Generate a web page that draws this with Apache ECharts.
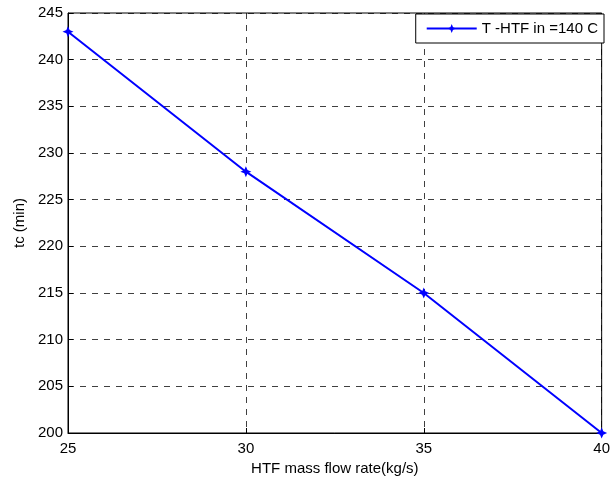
<!DOCTYPE html>
<html>
<head>
<meta charset="utf-8">
<script src="https://cdn.jsdelivr.net/npm/echarts@6/dist/echarts.min.js"></script>
<style>
  html, body { margin: 0; padding: 0; background: #fff; }
  #chart { width: 613px; height: 481px; }
</style>
</head>
<body>
<div id="chart"></div>
<script>
// Charging time against heat-transfer-fluid mass flow rate
const flowRates = [25, 30, 35, 40];
const chargeTimes = [243, 228, 215, 200];
const seriesName = 'T -HTF in =140 C';

const FONT = 'Liberation Sans, Arial, sans-serif';
const FS = 15;
const STAR = 'path://M0,-10 L3,-3 L10,0 L3,3 L0,10 L-3,3 L-10,0 L-3,-3 Z';

const chart = echarts.init(document.getElementById('chart'));
const gridLine = { show: true, lineStyle: { color: '#000', type: [6, 6], width: 1, opacity: 0.75 } };

chart.setOption({
  animation: false,
  grid: { left: 68, right: 7, top: 13, bottom: 45, containLabel: false, show: true, borderColor: '#000', borderWidth: 1 },
  legend: {
    right: 9, top: 14,
    data: [{ name: seriesName }],
    backgroundColor: '#fff', borderColor: '#000', borderWidth: 1,
    padding: [7, 6, 7, 10], itemWidth: 50, itemHeight: 11, itemGap: 6,
    textStyle: { fontFamily: FONT, fontSize: FS, color: '#000' }
  },
  xAxis: {
    type: 'value', min: 25, max: 40, interval: 5,
    name: 'HTF mass flow rate(kg/s)', nameLocation: 'middle', nameGap: 28,
    nameTextStyle: { fontFamily: FONT, fontSize: FS, color: '#000' },
    axisLine: { lineStyle: { color: '#000' } },
    axisTick: { inside: true, length: 5, lineStyle: { color: '#000' } },
    axisLabel: { fontFamily: FONT, fontSize: FS, color: '#000', margin: 8 },
    splitLine: gridLine
  },
  yAxis: {
    type: 'value', min: 200, max: 245, interval: 5,
    name: 'tc (min)', nameLocation: 'middle', nameGap: 40, nameRotate: 90,
    nameTextStyle: { fontFamily: FONT, fontSize: FS, color: '#000' },
    axisLine: { lineStyle: { color: '#000' } },
    axisTick: { inside: true, length: 5, lineStyle: { color: '#000' } },
    axisLabel: { fontFamily: FONT, fontSize: FS, color: '#000', margin: 5 },
    splitLine: gridLine
  },
  series: [{
    name: seriesName,
    type: 'line',
    data: flowRates.map((x, i) => [x, chargeTimes[i]]),
    symbol: STAR, symbolSize: 11,
    lineStyle: { color: '#0000ff', width: 2 },
    itemStyle: { color: '#0000ff' }
  }]
});
</script>
</body>
</html>
